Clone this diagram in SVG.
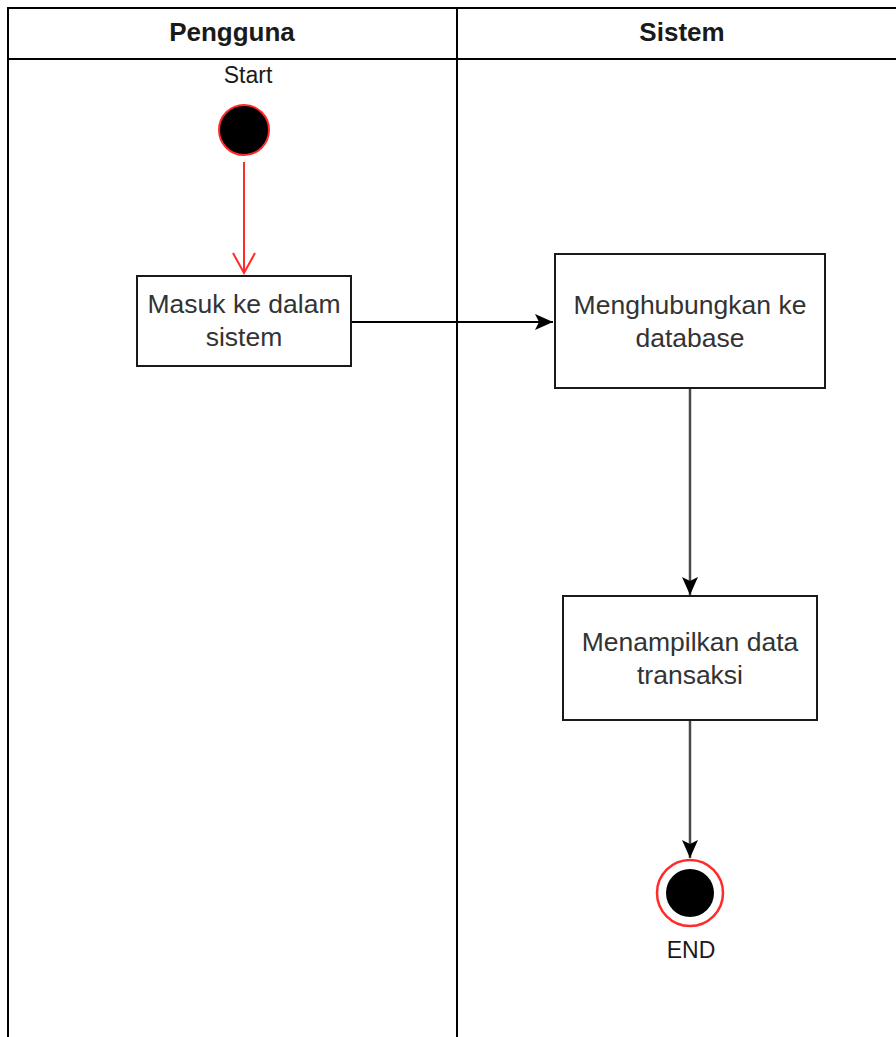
<svg xmlns="http://www.w3.org/2000/svg" width="896" height="1037" viewBox="0 0 896 1037">
  <style>
    .lane { fill: none; stroke: #000; stroke-width: 2; }
    .head { font-family: "Liberation Sans", Arial, sans-serif; font-size: 26px; font-weight: bold; fill: #1a1a1a; text-anchor: middle; }
    .label { font-family: "Liberation Sans", Arial, sans-serif; font-size: 23px; fill: #1a1a1a; text-anchor: middle; }
    .box { fill: #fff; stroke: #1a1a1a; stroke-width: 2; }
    .boxtext { font-family: "Liberation Sans", Arial, sans-serif; font-size: 26.5px; fill: #333; text-anchor: middle; }
    .flow { fill: none; stroke: #000; stroke-width: 2; }
    .flowv { fill: none; stroke: #4a4a4a; stroke-width: 2.5; }
  </style>
  <defs>
    <marker id="arrowFilled" viewBox="0 0 20 20" refX="19" refY="10" markerWidth="20" markerHeight="20" markerUnits="userSpaceOnUse" orient="auto">
      <path d="M1,2 L19,10 L1,18 L5,10 Z" fill="#000"/>
    </marker>
    <marker id="arrowOpen" viewBox="0 0 24 24" refX="22" refY="12" markerWidth="24" markerHeight="24" markerUnits="userSpaceOnUse" orient="auto">
      <path d="M2,1 L22,12 L2,23" fill="none" stroke="#ff2a2a" stroke-width="2"/>
    </marker>
  </defs>

  <rect width="896" height="1037" fill="#fff"/>

  <!-- swimlane frame -->
  <g id="lanes">
    <path class="lane" d="M8,1040 L8,8 L900,8"/>
    <line class="lane" x1="8" y1="59" x2="900" y2="59"/>
    <line class="lane" x1="457" y1="8" x2="457" y2="1040"/>
    <text class="head" x="232" y="41">Pengguna</text>
    <text class="head" x="682" y="41">Sistem</text>
  </g>

  <!-- connectors -->
  <g id="connectors">
    <line x1="244" y1="162" x2="244" y2="273" stroke="#ff2a2a" stroke-width="2" marker-end="url(#arrowOpen)"/>
    <line class="flow" x1="351" y1="322" x2="553" y2="322" marker-end="url(#arrowFilled)"/>
    <line class="flowv" x1="690" y1="388" x2="690" y2="595" marker-end="url(#arrowFilled)"/>
    <line class="flowv" x1="690" y1="720" x2="690" y2="858" marker-end="url(#arrowFilled)"/>
  </g>

  <g id="start">
    <circle cx="244" cy="130" r="25" fill="#000" stroke="#ff2a2a" stroke-width="2"/>
    <text class="label" x="248" y="83">Start</text>
  </g>

  <g id="masuk">
    <rect class="box" x="137" y="276" width="214" height="90"/>
    <text class="boxtext" x="244" y="313">Masuk ke dalam</text>
    <text class="boxtext" x="244" y="346">sistem</text>
  </g>

  <g id="menghubungkan">
    <rect class="box" x="555" y="254" width="270" height="134"/>
    <text class="boxtext" x="690" y="314">Menghubungkan ke</text>
    <text class="boxtext" x="690" y="347">database</text>
  </g>

  <g id="menampilkan">
    <rect class="box" x="563" y="596" width="254" height="124"/>
    <text class="boxtext" x="690" y="651">Menampilkan data</text>
    <text class="boxtext" x="690" y="684">transaksi</text>
  </g>

  <g id="end">
    <circle cx="690" cy="893" r="33" fill="#fff" stroke="#ff2a2a" stroke-width="2.5"/>
    <circle cx="690" cy="893" r="24" fill="#000"/>
    <text class="label" x="691" y="958">END</text>
  </g>
</svg>
